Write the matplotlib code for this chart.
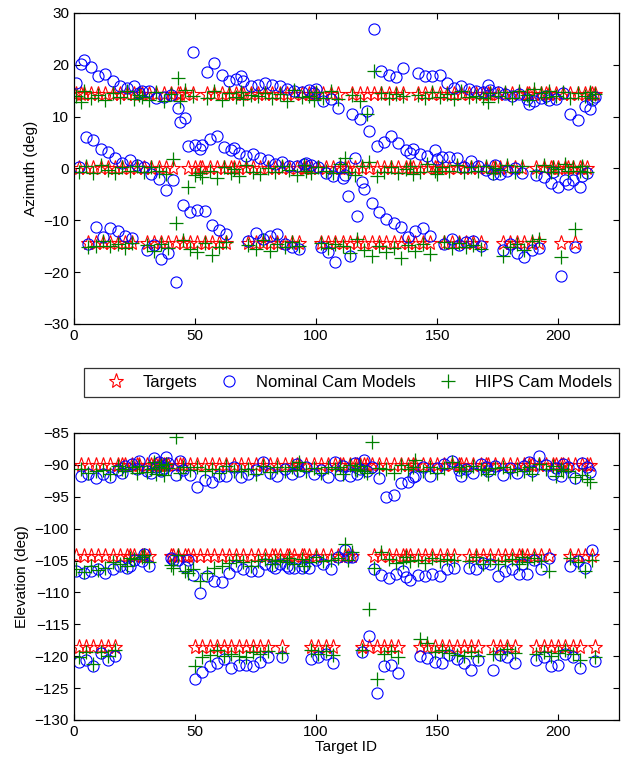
import numpy as np
import matplotlib
matplotlib.use("Agg")
import matplotlib.pyplot as plt

# target id on the x axis of both panels
target_id = np.arange(1, 216)

# azimuth (deg): commanded target, nominal camera model, HIPS camera model
az_target = [
    14.3, 0.0, 14.3, 14.3, 0.0, -14.3, 14.3, 0.0, -14.3, 14.3,
    0.0, -14.3, 14.3, 0.0, -14.3, 14.3, 0.0, -14.3, 14.3, 0.0,
    -14.3, 14.3, 0.0, -14.3, 14.3, 0.0, 14.3, 14.3, 0.0, -14.3,
    14.3, 0.0, -14.3, 14.3, 0.0, -14.3, 14.3, 0.0, -14.3, 14.3,
    0.0, -14.3, 14.3, 14.3, -14.3, 14.3, 0.0, -14.3, 14.3, 0.0,
    -14.3, 0.0, 0.0, -14.3, 14.3, 0.0, -14.3, 14.3, 0.0, -14.3,
    14.3, 0.0, -14.3, 14.3, 0.0, 0.0, 14.3, 0.0, 14.3, 14.3,
    0.0, -14.3, 14.3, 0.0, -14.3, 14.3, 0.0, -14.3, 14.3, 0.0,
    -14.3, 14.3, 0.0, -14.3, 14.3, 0.0, -14.3, 14.3, 0.0, -14.3,
    14.3, 0.0, -14.3, 14.3, 0.0, 0.0, 14.3, 0.0, 14.3, 14.3,
    0.0, -14.3, 14.3, 0.0, -14.3, 14.3, 0.0, -14.3, 14.3, 0.0,
    -14.3, 0.0, 0.0, -14.3, 14.3, 0.0, -14.3, 14.3, 0.0, -14.3,
    14.3, 0.0, -14.3, 14.3, 0.0, -14.3, 14.3, 0.0, -14.3, 14.3,
    0.0, -14.3, 14.3, 0.0, -14.3, 14.3, 0.0, -14.3, 0.0, 0.0,
    -14.3, 14.3, 0.0, -14.3, 14.3, 0.0, -14.3, 14.3, 0.0, 0.0,
    14.3, 0.0, -14.3, 14.3, 0.0, -14.3, 14.3, 0.0, -14.3, 14.3,
    0.0, -14.3, 14.3, 0.0, -14.3, 14.3, 0.0, -14.3, 14.3, 0.0,
    14.3, 14.3, 0.0, 0.0, 14.3, 0.0, -14.3, 14.3, 0.0, -14.3,
    14.3, 0.0, -14.3, 14.3, 0.0, -14.3, 14.3, 14.3, -14.3, 14.3,
    0.0, -14.3, 14.3, 0.0, 14.3, 14.3, 0.0, 0.0, 14.3, 0.0,
    -14.3, 14.3, 0.0, 0.0, 14.3, 0.0, -14.3, 14.3, 0.0, 0.0,
    14.3, 0.0, 14.3, 14.3, 14.3,
]
az_nominal = [
    16.5, 0.2, 20.2, 21.0, 6.0, -14.6, 19.6, 5.5, -11.3, 17.9,
    3.8, -13.2, 18.3, 3.1, -11.4, 16.9, 2.1, -12.1, 16.0, 1.0,
    -13.0, 15.5, 1.7, -13.5, 16.0, 0.7, 14.6, 15.0, 0.3, -15.8,
    14.9, -1.0, -14.8, 13.6, -2.0, -17.5, 13.8, -4.2, -16.4, 14.2,
    -2.2, -21.9, 11.7, 9.0, -7.1, 9.8, 4.4, -8.4, 22.5, 4.6,
    -8.1, 3.8, 4.6, -8.3, 18.7, 5.6, -11.0, 20.4, 6.2, -11.8,
    18.1, 4.2, -12.6, 16.9, 3.5, 4.0, 17.2, 3.0, 17.9, 16.8,
    2.5, -14.0, 16.0, 2.7, -12.5, 16.2, 2.0, -13.7, 16.5, 1.7,
    -13.0, 16.2, 0.8, -12.7, 16.0, 1.2, -14.6, 15.4, 0.5, -15.2,
    15.0, 0.4, -15.6, 14.8, 0.9, 1.0, 15.2, 0.6, 14.5, 15.3,
    0.3, -15.2, 13.0, -0.8, -16.2, 13.4, -1.4, -18.0, 11.7, 0.2,
    -1.8, -1.2, -5.4, -16.9, 10.5, 2.1, -9.2, 9.5, -2.7, -3.9,
    11.0, 7.2, -6.6, 26.9, 4.4, -8.4, 18.8, 5.1, -9.8, 18.0,
    6.3, -10.5, 17.7, 5.0, -11.3, 19.4, 3.5, -13.3, 3.0, 3.7,
    -12.0, 18.5, 2.8, -11.5, 17.9, 2.5, -13.0, 17.9, 3.5, 1.9,
    18.0, 2.2, -14.5, 16.5, 2.3, -13.7, 15.6, 2.1, -14.8, 16.0,
    0.2, -14.2, 15.4, 1.5, -14.0, 15.0, 0.5, -14.9, 14.8, -0.3,
    16.1, 15.2, -1.0, 0.6, 14.7, -1.0, -15.8, 14.4, -0.4, -14.6,
    14.0, 0.0, -16.4, 14.3, -0.8, -17.0, 13.4, 12.5, -15.8, 13.0,
    -1.2, -15.3, 13.6, -1.7, 13.9, 13.2, -2.9, -0.6, 13.4, -3.6,
    -20.8, 14.6, -2.2, -3.0, 10.6, -2.3, -15.1, 9.4, -3.5, -1.4,
    12.1, -0.9, 11.5, 13.2, 13.8,
]
az_hips = [
    13.9, -0.6, 12.8, 14.9, 0.4, -15.2, 13.5, -0.8, -14.9, 14.1,
    0.6, -14.0, 13.2, -0.3, -15.0, 14.6, -0.9, -14.6, 13.7, 0.2,
    -15.4, 15.0, -0.4, -14.3, 13.4, 0.5, 14.2, 13.8, -0.7, -14.7,
    13.3, 0.3, -15.9, 14.7, -0.5, -14.5, 13.1, -1.1, -15.3, 14.4,
    1.8, -10.5, 17.5, 13.0, -13.8, 15.2, -3.6, -15.6, 14.0, -1.2,
    -16.2, -0.8, -1.6, -14.4, 13.6, -0.4, -16.7, 14.9, -1.9, -15.1,
    13.2, 0.3, -14.1, 14.5, -0.9, -0.2, 13.7, -1.4, 14.8, 13.4,
    0.7, -14.8, 14.1, -0.6, -15.5, 13.9, -1.0, -13.9, 14.6, 0.1,
    -16.0, 13.5, -0.7, -14.6, 14.3, 0.4, -15.2, 13.1, -0.3, -14.2,
    15.1, -1.2, -14.9, 13.8, 0.6, -0.5, 14.0, -0.8, 13.3, 14.7,
    0.2, -14.4, 13.6, -0.4, -15.3, 14.9, -0.9, -14.6, 13.4, 0.9,
    -15.0, 2.1, -0.6, -16.4, 14.2, -1.3, -13.7, 13.0, 0.4, -15.7,
    10.6, 1.2, -16.8, 18.8, -1.5, -14.9, 14.5, -0.7, -16.1, 13.6,
    0.3, -15.4, 14.4, -0.9, -17.3, 13.9, -0.2, -14.8, 0.5, -1.1,
    -15.9, 14.1, -0.6, -14.5, 13.5, 0.8, -16.5, 14.7, -0.4, -1.0,
    13.8, 0.2, -14.1, 14.3, -0.5, -15.4, 13.4, 0.6, -14.4, 14.9,
    -0.7, -15.1, 13.7, 0.3, -14.7, 14.0, -0.4, -15.6, 13.5, 0.5,
    12.8, 14.6, -0.8, 0.1, 13.9, -0.3, -16.8, 14.8, 0.7, -15.2,
    13.6, -0.6, -14.5, 14.9, 0.4, -15.8, 14.2, 13.3, -14.0, 15.3,
    -0.5, -13.6, 14.5, 0.6, 13.7, 15.0, -0.7, 0.3, 14.0, -0.2,
    -17.0, 14.7, 0.8, -0.4, 13.6, 0.2, -11.7, 14.6, -0.5, 0.5,
    13.9, -0.6, 14.8, 13.5, 14.4,
]

# elevation (deg)
el_target = [
    -104.3, -118.6, -90.0, -104.3, -118.6, -90.0, -104.3, -118.6, -90.0, -104.3,
    -118.6, -90.0, -104.3, -118.6, -90.0, -104.3, -118.6, -90.0, -104.3, -90.0,
    -90.0, -104.3, -104.3, -90.0, -104.3, -90.0, -90.0, -104.3, -104.3, -90.0,
    -104.3, -90.0, -90.0, -90.0, -90.0, -90.0, -90.0, -90.0, -90.0, -104.3,
    -104.3, -90.0, -104.3, -90.0, -90.0, -104.3, -104.3, -90.0, -104.3, -118.6,
    -90.0, -104.3, -118.6, -90.0, -104.3, -118.6, -90.0, -104.3, -118.6, -90.0,
    -104.3, -118.6, -90.0, -104.3, -118.6, -90.0, -104.3, -118.6, -90.0, -104.3,
    -118.6, -90.0, -104.3, -118.6, -90.0, -104.3, -118.6, -90.0, -104.3, -118.6,
    -90.0, -104.3, -104.3, -90.0, -104.3, -118.6, -90.0, -104.3, -104.3, -90.0,
    -104.3, -90.0, -90.0, -104.3, -104.3, -90.0, -104.3, -118.6, -90.0, -104.3,
    -118.6, -90.0, -104.3, -118.6, -90.0, -104.3, -118.6, -90.0, -104.3, -90.0,
    -90.0, -104.3, -104.3, -90.0, -104.3, -90.0, -90.0, -90.0, -118.6, -90.0,
    -90.0, -118.6, -90.0, -104.3, -118.6, -90.0, -104.3, -118.6, -90.0, -104.3,
    -118.6, -90.0, -104.3, -118.6, -90.0, -104.3, -104.3, -90.0, -104.3, -90.0,
    -90.0, -104.3, -118.6, -90.0, -104.3, -118.6, -90.0, -104.3, -118.6, -90.0,
    -104.3, -118.6, -90.0, -104.3, -118.6, -90.0, -104.3, -118.6, -90.0, -90.0,
    -118.6, -90.0, -104.3, -118.6, -90.0, -104.3, -118.6, -90.0, -104.3, -90.0,
    -90.0, -104.3, -118.6, -90.0, -104.3, -118.6, -90.0, -104.3, -118.6, -90.0,
    -104.3, -118.6, -90.0, -104.3, -104.3, -90.0, -104.3, -90.0, -90.0, -104.3,
    -118.6, -90.0, -104.3, -118.6, -90.0, -104.3, -118.6, -90.0, -90.0, -118.6,
    -90.0, -90.0, -118.6, -90.0, -104.3, -118.6, -90.0, -104.3, -118.6, -90.0,
    -104.3, -90.0, -90.0, -104.3, -118.6,
]
el_nominal = [
    -106.7, -120.9, -91.8, -107.0, -120.6, -91.5, -106.7, -121.6, -92.0, -106.4,
    -119.5, -91.4, -106.9, -120.6, -91.9, -106.3, -119.9, -90.8, -105.9, -91.2,
    -90.2, -106.2, -105.9, -89.8, -104.9, -90.6, -89.4, -105.1, -103.9, -90.9,
    -105.9, -91.3, -88.9, -90.3, -89.6, -91.0, -90.5, -88.8, -89.7, -104.6,
    -104.9, -91.6, -104.9, -89.4, -90.8, -106.0, -104.9, -91.6, -107.2, -123.5,
    -93.4, -110.1, -122.4, -92.4, -107.5, -121.6, -92.7, -108.2, -121.0, -91.8,
    -108.4, -120.4, -91.7, -107.0, -121.9, -90.4, -105.9, -121.4, -91.9, -106.4,
    -121.4, -91.5, -106.7, -121.6, -90.8, -106.7, -120.9, -89.6, -105.6, -120.1,
    -91.2, -105.9, -106.2, -91.7, -105.6, -120.1, -90.6, -105.9, -106.2, -91.5,
    -106.2, -89.9, -91.0, -106.2, -105.8, -90.3, -106.2, -120.4, -91.4, -104.9,
    -120.1, -90.8, -105.6, -119.6, -91.9, -106.4, -121.1, -89.5, -104.4, -91.6,
    -90.2, -103.3, -104.4, -91.8, -104.4, -89.7, -91.5, -90.6, -119.3, -89.3,
    -90.9, -116.8, -90.4, -106.4, -125.8, -92.0, -107.2, -121.6, -95.0, -107.7,
    -121.4, -94.7, -107.1, -122.6, -92.8, -106.6, -107.6, -92.7, -108.1, -91.9,
    -91.7, -107.2, -120.0, -90.3, -107.5, -120.3, -91.7, -107.1, -120.9, -90.5,
    -107.5, -121.1, -89.8, -106.4, -119.8, -89.4, -106.2, -120.5, -90.8, -91.8,
    -121.1, -90.6, -106.2, -122.2, -91.2, -106.4, -120.6, -89.9, -105.4, -90.4,
    -91.0, -105.6, -122.2, -90.2, -107.4, -119.8, -91.6, -106.6, -120.1, -90.5,
    -106.4, -121.0, -91.3, -107.1, -105.6, -90.2, -107.1, -89.5, -90.9, -104.9,
    -120.6, -88.6, -106.4, -120.1, -90.1, -104.6, -121.5, -91.4, -90.5, -121.4,
    -91.7, -89.8, -119.7, -90.4, -105.9, -120.1, -92.0, -105.1, -121.9, -89.7,
    -106.2, -90.3, -91.1, -103.3, -120.7,
]
el_hips = [
    -106.4, -120.1, -90.6, -106.8, -119.4, -91.2, -105.9, -121.2, -91.0, -106.5,
    -119.3, -90.8, -106.1, -120.0, -91.5, -105.2, -119.0, -90.2, -105.5, -90.7,
    -90.9, -105.8, -104.6, -90.4, -104.8, -91.3, -90.2, -104.5, -104.2, -91.1,
    -105.3, -90.6, -89.6, -91.4, -90.3, -90.1, -91.6, -89.8, -90.5, -105.7,
    -106.2, -85.6, -104.2, -91.2, -90.3, -106.7, -107.0, -90.8, -106.4, -121.6,
    -90.4, -108.2, -120.1, -91.0, -107.0, -119.8, -90.6, -106.2, -119.0, -91.3,
    -105.9, -120.0, -90.2, -105.4, -119.6, -90.9, -104.9, -119.9, -91.0, -105.3,
    -120.2, -90.6, -105.8, -119.4, -91.4, -105.1, -119.7, -90.2, -104.7, -119.2,
    -91.1, -105.6, -105.0, -90.4, -104.9, -119.5, -90.9, -105.3, -104.6, -90.3,
    -105.5, -90.8, -89.5, -104.8, -105.9, -91.0, -105.2, -119.1, -90.5, -104.5,
    -119.6, -91.2, -105.1, -119.2, -90.4, -104.9, -119.8, -90.7, -104.6, -90.3,
    -91.5, -102.4, -104.9, -90.1, -103.6, -90.6, -90.8, -90.2, -119.0, -90.9,
    -91.3, -112.6, -86.4, -106.2, -123.5, -90.5, -103.6, -119.6, -90.7, -104.8,
    -119.2, -91.2, -105.4, -120.1, -90.1, -105.2, -104.5, -90.6, -105.0, -90.4,
    -89.3, -104.9, -117.3, -90.9, -105.4, -118.0, -90.4, -104.6, -119.4, -91.2,
    -105.1, -119.1, -90.5, -104.7, -119.5, -89.6, -104.9, -119.8, -90.3, -90.9,
    -119.9, -91.0, -105.1, -119.4, -90.2, -104.4, -120.0, -90.6, -105.6, -90.8,
    -91.5, -104.9, -119.6, -90.5, -105.5, -119.7, -90.4, -105.0, -118.9, -91.1,
    -104.8, -119.5, -90.6, -105.6, -104.5, -90.9, -105.2, -90.3, -91.4, -104.6,
    -119.7, -89.9, -105.0, -119.3, -90.7, -106.6, -120.0, -90.2, -91.8, -119.5,
    -90.6, -91.0, -119.1, -90.9, -104.6, -119.6, -91.9, -105.3, -120.6, -91.6,
    -106.7, -92.2, -92.7, -104.9, -120.1,
]

plt.rcParams["font.family"] = ["Liberation Sans", "DejaVu Sans"]
plt.rcParams["font.size"] = 11

fig = plt.figure(figsize=(6.32, 7.64), dpi=100)
ax1 = fig.add_axes([0.117, 0.576, 0.862, 0.407])
ax2 = fig.add_axes([0.117, 0.0576, 0.862, 0.3757])

star = dict(marker="*", linestyle="none", color="red", markerfacecolor="none",
            markersize=11, markeredgewidth=0.8)
circ = dict(marker="o", linestyle="none", color="blue", markerfacecolor="none",
            markersize=8, markeredgewidth=0.8)
plus = dict(marker="+", linestyle="none", color="green", markersize=10,
            markeredgewidth=0.9)

h1, = ax1.plot(target_id, az_target, label="Targets", **star)
h2, = ax1.plot(target_id, az_nominal, label="Nominal Cam Models", **circ)
h3, = ax1.plot(target_id, az_hips, label="HIPS Cam Models", **plus)

ax2.plot(target_id, el_target, **star)
ax2.plot(target_id, el_nominal, **circ)
ax2.plot(target_id, el_hips, **plus)

ax1.set_xlim(0, 225)
ax1.set_ylim(-30, 30)
ax1.set_yticks(np.arange(-30, 31, 10))
ax1.set_ylabel("Azimuth (deg)")

ax2.set_xlim(0, 225)
ax2.set_ylim(-130, -85)
ax2.set_yticks(np.arange(-130, -84, 5))
ax2.set_ylabel("Elevation (deg)")
ax2.set_xlabel("Target ID", labelpad=1)

for ax in (ax1, ax2):
    ax.set_xticks([0, 50, 100, 150, 200])
    ax.tick_params(direction="in", top=True, right=True, length=4, width=0.8)
    for s in ax.spines.values():
        s.set_linewidth(0.9)

leg = fig.legend([h1, h2, h3], ["Targets", "Nominal Cam Models", "HIPS Cam Models"],
                 loc="center", bbox_to_anchor=(0.556, 0.4993), ncol=3,
                 frameon=True, fancybox=False, edgecolor="black", fontsize=12,
                 handlelength=3.0, handletextpad=0.1, columnspacing=0.45,
                 borderpad=0.4)
leg.get_frame().set_linewidth(0.9)

fig.savefig("out.png", dpi=100)
